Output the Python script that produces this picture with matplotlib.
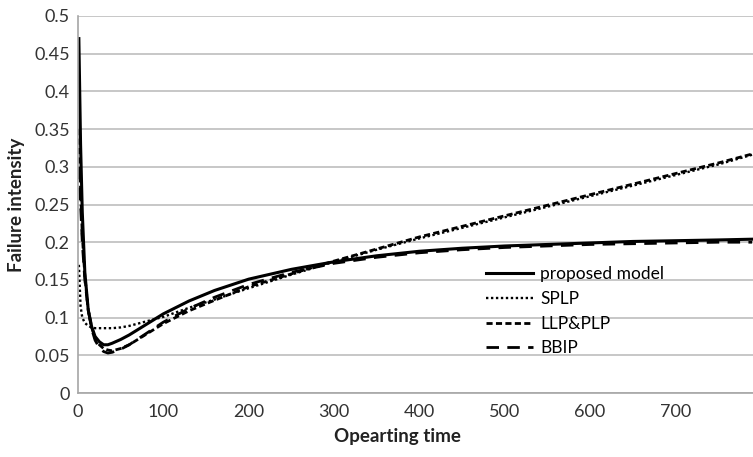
import matplotlib.pyplot as plt

# operating time points
t = [1, 3, 5, 8, 12, 16, 20, 25, 30, 35, 40, 50, 60, 80, 100, 130, 160, 200,
     250, 300, 350, 400, 450, 500, 550, 600, 650, 700, 750, 790]

proposed = [0.47, 0.33, 0.24, 0.16, 0.11, 0.088, 0.075, 0.068, 0.064, 0.064,
            0.066, 0.071, 0.077, 0.091, 0.105, 0.122, 0.136, 0.151, 0.164,
            0.174, 0.182, 0.188, 0.192, 0.195, 0.197, 0.199, 0.201, 0.202,
            0.203, 0.204]
splp = [0.17, 0.115, 0.1, 0.093, 0.089, 0.087, 0.086, 0.086, 0.086, 0.086,
        0.086, 0.087, 0.089, 0.095, 0.101, 0.113, 0.124, 0.139, 0.157,
        0.174, 0.19, 0.205, 0.219, 0.233, 0.247, 0.261, 0.275, 0.289,
        0.303, 0.316]
llp_plp = [0.35, 0.27, 0.21, 0.155, 0.11, 0.087, 0.073, 0.064, 0.059, 0.057,
           0.056, 0.059, 0.064, 0.078, 0.092, 0.109, 0.123, 0.141, 0.158,
           0.175, 0.191, 0.207, 0.221, 0.235, 0.249, 0.263, 0.277, 0.291,
           0.305, 0.317]
bbip = [0.3, 0.25, 0.2, 0.15, 0.11, 0.085, 0.07, 0.06, 0.055, 0.053,
        0.054, 0.058, 0.064, 0.079, 0.094, 0.112, 0.127, 0.144, 0.16,
        0.172, 0.18, 0.186, 0.19, 0.193, 0.195, 0.197, 0.198, 0.199,
        0.2, 0.2]

y_ticks = [0, 0.05, 0.1, 0.15, 0.2, 0.25, 0.3, 0.35, 0.4, 0.45, 0.5]
y_labels = ["0", "0.05", "0.1", "0.15", "0.2", "0.25", "0.3", "0.35", "0.4", "0.45", "0.5"]
x_ticks = [0, 100, 200, 300, 400, 500, 600, 700]

plt.rcParams['font.family'] = ['Lato', 'DejaVu Sans']

fig = plt.figure(figsize=(7.53, 4.57), dpi=100)
ax = fig.add_axes([0.1036, 0.140, 0.8964, 0.825])

ax.plot(t, proposed, color='black', lw=2.2, ls='-', label='proposed model')
ax.plot(t, splp, color='black', lw=1.7, ls=(0, (1, 1.1)), label='SPLP')
ax.plot(t, llp_plp, color='black', lw=2.0, ls=(0, (2.2, 1.2)), label='LLP&PLP')
ax.plot(t, bbip, color='black', lw=2.0, ls=(0, (4.5, 3)), label='BBIP')

ax.set_xlim(0, 791)
ax.set_ylim(0, 0.5)
ax.set_yticks(y_ticks)
ax.set_yticklabels(y_labels)
ax.set_xticks(x_ticks)

ax.grid(axis='y', color='#bdbdbd', lw=1.2)
ax.set_axisbelow(True)
for s in ['top', 'right']:
    ax.spines[s].set_visible(False)
for s in ['left', 'bottom']:
    ax.spines[s].set_color('#a6a6a6')
    ax.spines[s].set_linewidth(1.2)
ax.tick_params(length=0, labelsize=13, colors='#333333', pad=6)
ax.tick_params(axis='x', pad=8)

ax.set_ylabel('Failure intensity', fontsize=13.5, fontweight='bold', color='#222222')
ax.yaxis.set_label_coords(-0.079, 0.5)
ax.set_xlabel('Opearting time', fontsize=13.5, fontweight='bold', color='#222222')
ax.xaxis.set_label_coords(0.473, -0.093)

ax.legend(loc='upper left', bbox_to_anchor=(0.605, 0.336), frameon=False,
          fontsize=12.5, handlelength=2.7, handletextpad=0.4, labelspacing=0.5,
          borderpad=0, borderaxespad=0)

plt.savefig('out.png', dpi=100)
